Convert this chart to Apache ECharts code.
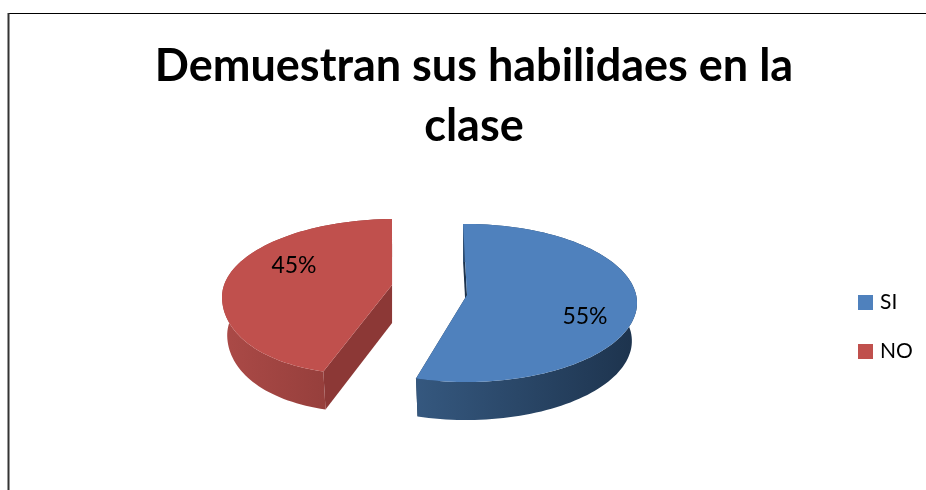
<!DOCTYPE html>
<html>
<head>
<meta charset="utf-8">
<style>
  html, body { margin: 0; padding: 0; background: #fff; }
  #chart { width: 926px; height: 490px; }
</style>
<script src="https://cdn.jsdelivr.net/npm/echarts@6/dist/echarts.min.js"></script>
</head>
<body>
<div id="chart"></div>
<script>
const titleText = 'Demuestran sus habilidaes en la\nclase'
const categories = ['SI', 'NO']
const values = [55, 45]
const labels = ['55%', '45%']

const fontName = 'Lato'
const startAngle = -91 // first slice starts at the back of the pie
const depth = 38
const floorScale = 0.97 // bottom rim is a bit narrower, fake perspective

// one entry per slice: ellipse, tip of the slice, lean of the near rim, label spot
const sliceLayout = [
  {
    cx: 466, cy: 303, rx: 171, ry: 79, tipX: 467, tipY: 295, lean: 0, labelX: 585, labelY: 317,
    top: '#4f81bd', wallFrom: '#35587f', wallTo: '#1d334d', face: '#1d334d'
  },
  {
    cx: 395, cy: 297, rx: 173, ry: 78, tipX: 392, tipY: 285, lean: -23, labelX: 294, labelY: 266,
    top: '#c0504d', wallFrom: '#ab4a47', wallTo: '#893835', face: '#8c3836'
  }
]

const total = values.reduce((a, b) => a + b, 0)

function sliceAngles(index) {
  let from = startAngle
  for (let i = 0; i < index; i++) from += values[i] / total * 360
  return [from, from + values[index] / total * 360]
}

function rimPoint(l, deg) {
  const a = deg * Math.PI / 180
  const near = Math.max(0, Math.sin(a))
  return [
    l.cx + l.rx * Math.cos(a) + l.lean * near * near,
    l.cy + l.ry * Math.sin(a)
  ]
}

function dropped(l, p) {
  return [l.cx + (p[0] - l.cx) * floorScale, p[1] + depth]
}

function renderSlice(index) {
  return function(params, api) {
    const l = sliceLayout[index]
    const range = sliceAngles(index)
    const rim = []
    for (let d = range[0]; d < range[1]; d += 2) rim.push(rimPoint(l, d))
    rim.push(rimPoint(l, range[1]))

    const tip = [l.tipX, l.tipY]
    const first = rim[0]
    const last = rim[rim.length - 1]
    const wallFill = new echarts.graphic.LinearGradient(0, 0, 1, 0, [
      { offset: 0, color: l.wallFrom },
      { offset: 1, color: l.wallTo }
    ])

    const poly = (points, fill) => ({
      type: 'polygon',
      shape: { points: points },
      style: { fill: fill, stroke: 'none' }
    })

    // cut faces go first so the round wall hides the one that faces away
    const children = [
      poly([first, tip, dropped(l, tip), dropped(l, first)], l.face),
      poly([last, tip, dropped(l, tip), dropped(l, last)], l.face),
      poly(rim.concat(rim.map(p => dropped(l, p)).reverse()), wallFill),
      poly(rim.concat([tip]), l.top),
      {
        type: 'text',
        style: {
          text: labels[index],
          x: l.labelX,
          y: l.labelY,
          align: 'center',
          verticalAlign: 'middle',
          fontFamily: fontName,
          fontSize: 23,
          fill: '#000'
        }
      }
    ]
    return { type: 'group', children: children }
  }
}

const chart = echarts.init(document.getElementById('chart'), null, { renderer: 'canvas' })

chart.setOption({
  animation: false,
  backgroundColor: '#fff',
  title: {
    text: titleText,
    left: 469,
    top: 31,
    textAlign: 'center',
    textStyle: {
      fontFamily: fontName,
      fontWeight: 'bold',
      fontSize: 45,
      lineHeight: 60,
      color: '#000'
    }
  },
  legend: {
    orient: 'vertical',
    left: 853,
    top: 287,
    itemWidth: 15,
    itemHeight: 15,
    itemGap: 28,
    icon: 'rect',
    selectedMode: false,
    data: categories,
    textStyle: { fontFamily: fontName, fontSize: 21, color: '#000', padding: [0, 0, 0, 2] }
  },
  graphic: [
    { type: 'line', shape: { x1: 8, y1: 13.5, x2: 926, y2: 13.5 }, style: { stroke: '#000', lineWidth: 1 } },
    { type: 'line', shape: { x1: 8.5, y1: 13, x2: 8.5, y2: 490 }, style: { stroke: '#333', lineWidth: 2 } }
  ],
  series: categories.map((name, i) => ({
    type: 'custom',
    name: name,
    coordinateSystem: 'none',
    silent: true,
    itemStyle: { color: sliceLayout[i].top },
    renderItem: renderSlice(i),
    data: [[values[i]]]
  }))
})
</script>
</body>
</html>
